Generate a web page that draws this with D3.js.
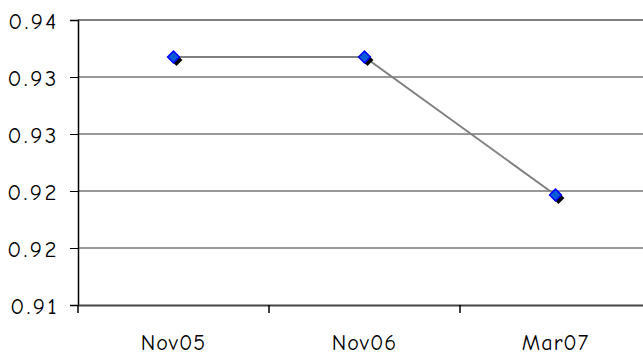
<!DOCTYPE html>
<html>
<head>
<meta charset="utf-8">
<script src="https://cdn.jsdelivr.net/npm/d3@7"></script>
<style>
  body { margin: 0; background: #fff; }
  svg text { font-family: "Comic Sans MS", "Comic Neue", "DejaVu Sans", sans-serif; fill: #000; }
</style>
</head>
<body>
<div class="chart"></div>
<script>
// DATA ------------------------------------

const categories = ["Nov05", "Nov06", "Mar07"];
const values = [0.93175, 0.93175, 0.91965];
const tickValues = [0.91, 0.915, 0.92, 0.925, 0.93, 0.935];
const tickLabels = ["0.91", "0.92", "0.92", "0.93", "0.93", "0.94"];

// CHART INIT ------------------------------

const margin = { top: 20, left: 78, right: 0, bottom: 50 };
const totalWidth = 643;
const totalHeight = 355;
const width = 573,
  height = totalHeight - margin.top - margin.bottom;

const svg = d3
  .select(".chart")
  .append("svg")
  .attr("width", totalWidth)
  .attr("height", totalHeight)
  .append("g")
  .attr("transform", "translate(" + margin.left + "," + margin.top + ")");

const xScale = d3.scaleBand().domain(categories).range([0, width]);
const yScale = d3.scaleLinear().domain([0.91, 0.935]).range([height, 0]);

// gridlines
svg
  .selectAll(".grid")
  .data(tickValues.slice(1))
  .enter()
  .append("line")
  .attr("class", "grid")
  .attr("x1", 0)
  .attr("x2", totalWidth)
  .attr("y1", (d) => yScale(d))
  .attr("y2", (d) => yScale(d))
  .attr("stroke", (d, i) => (i === tickValues.length - 2 ? "#808080" : "#333"))
  .attr("stroke-width", (d, i) => (i === tickValues.length - 2 ? 2 : 1));

// axes
const yAxis = d3
  .axisLeft(yScale)
  .tickValues(tickValues)
  .tickFormat((d, i) => tickLabels[i])
  .tickSize(8)
  .tickPadding(11);

svg
  .append("g")
  .attr("class", "axis y-axis")
  .call(yAxis)
  .call((g) => g.select(".domain").attr("stroke", "#000").attr("stroke-width", 1.5))
  .call((g) => g.selectAll(".tick line").attr("stroke", "#000"))
  .call((g) =>
    g
      .selectAll("text")
      .style("font-size", "23px")
      .style("letter-spacing", "2.5px")
      .attr("dy", "0.36em")
  );

const xAxis = d3.axisBottom(xScale).tickSize(0).tickPadding(45);

svg
  .append("g")
  .attr("class", "axis x-axis")
  .attr("transform", `translate(0, ${height})`)
  .call(xAxis)
  .call((g) => g.select(".domain").attr("stroke", "#444").attr("stroke-width", 2))
  .call((g) =>
    g
      .selectAll("text")
      .style("font-size", "22px")
      .style("letter-spacing", "1px")
      .attr("dy", "0")
  );

// category separator ticks
svg
  .selectAll(".xtick")
  .data(categories)
  .enter()
  .append("line")
  .attr("class", "xtick")
  .attr("x1", (d) => xScale(d))
  .attr("x2", (d) => xScale(d))
  .attr("y1", height)
  .attr("y2", height + 8)
  .attr("stroke", "#000")
  .attr("stroke-width", 1.5);

// line
const points = categories.map((c, i) => ({ c: c, v: values[i] }));
const cx = (d) => xScale(d.c) + xScale.bandwidth() / 2;

svg
  .append("path")
  .datum(points)
  .attr("fill", "none")
  .attr("stroke", "#808080")
  .attr("stroke-width", 2)
  .attr("d", d3.line().x(cx).y((d) => yScale(d.v)));

// markers: shadow then blue diamond
const diamond = d3.symbol().type(d3.symbolSquare).size(70);

svg
  .selectAll(".shadow")
  .data(points)
  .enter()
  .append("path")
  .attr("class", "shadow")
  .attr("d", diamond)
  .attr("fill", "#000")
  .attr("transform", (d) => `translate(${cx(d) + 3},${yScale(d.v) + 3}) rotate(45)`);

svg
  .selectAll(".marker")
  .data(points)
  .enter()
  .append("path")
  .attr("class", "marker")
  .attr("d", diamond)
  .attr("fill", "#0a5bd8")
  .attr("stroke", "#0000ff")
  .attr("stroke-width", 1.5)
  .attr("transform", (d) => `translate(${cx(d)},${yScale(d.v)}) rotate(45)`);
</script>
</body>
</html>
